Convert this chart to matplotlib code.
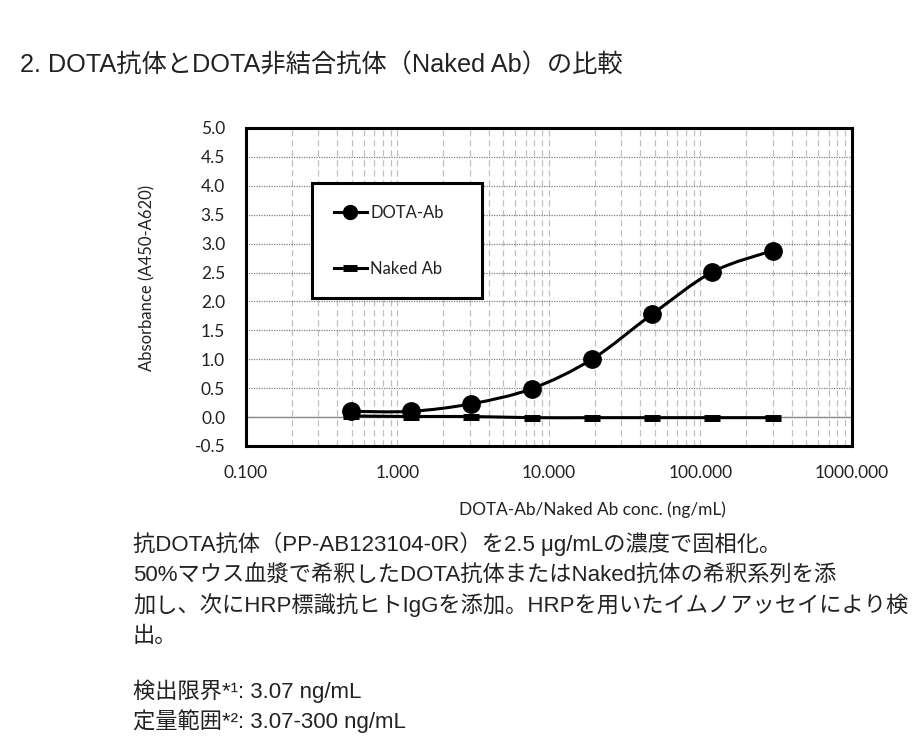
import numpy as np
import matplotlib
matplotlib.use('Agg')
import matplotlib.pyplot as plt
from matplotlib.path import Path
from matplotlib.patches import PathPatch
from matplotlib.lines import Line2D
from matplotlib.ticker import LogLocator, FixedLocator, FuncFormatter, NullFormatter

# data
conc = [0.49, 1.23, 3.07, 7.68, 19.2, 48.0, 120.0, 300.0]
dota_ab = [0.10, 0.10, 0.23, 0.49, 1.00, 1.78, 2.51, 2.88]
naked_ab = [0.02, 0.01, 0.01, -0.01, -0.01, -0.01, -0.01, -0.01]
series_names = ['DOTA-Ab', 'Naked Ab']
y_ticks = [-0.5, 0.0, 0.5, 1.0, 1.5, 2.0, 2.5, 3.0, 3.5, 4.0, 4.5, 5.0]
x_ticks = [0.1, 1, 10, 100, 1000]

title = '2. DOTA抗体とDOTA非結合抗体（Naked Ab）の比較'
body = ['抗DOTA抗体（PP-AB123104-0R）を2.5 μg/mLの濃度で固相化。',
        '50%マウス血漿で希釈したDOTA抗体またはNaked抗体の希釈系列を添',
        '加し、次にHRP標識抗ヒトIgGを添加。HRPを用いたイムノアッセイにより検',
        '出。']
notes = ['検出限界*¹: 3.07 ng/mL',
         '定量範囲*²: 3.07-300 ng/mL']

jp_fam = ['Liberation Sans', 'Noto Sans CJK JP', 'DejaVu Sans']
chart_fam = ['Lato', 'DejaVu Sans']
ink = '#222222'

W, H = 920, 740
fig = plt.figure(figsize=(W / 100, H / 100), dpi=100)
fig.patch.set_facecolor('white')

# axes box in pixels: left 246, right 852, top 128, bottom 446
ax = fig.add_axes([246 / W, 1 - 446 / H, 606 / W, 318 / H])


def smooth_path(xs, ys):
    # Excel-like smoothed line: cubic bezier segments built in log-x space
    pts = np.column_stack([np.log10(xs), ys])
    p = np.vstack([pts[0], pts, pts[-1]])
    verts = [pts[0]]
    codes = [Path.MOVETO]
    for i in range(1, len(pts)):
        p0, p1, p2, p3 = p[i - 1], p[i], p[i + 1], p[i + 2]
        c1 = p1 + (p2 - p0) / 6.0
        c2 = p2 - (p3 - p1) / 6.0
        verts += [c1, c2, p2]
        codes += [Path.CURVE4] * 3
    verts = np.array(verts)
    verts[:, 0] = 10 ** verts[:, 0]
    return Path(verts, codes)


ax.axhline(0, color='#8c8c8c', lw=1.0, zorder=1)

ax.add_patch(PathPatch(smooth_path(conc, naked_ab), fill=False, ec='black', lw=2.2, zorder=3))
ax.add_patch(PathPatch(smooth_path(conc, dota_ab), fill=False, ec='black', lw=2.2, zorder=3))
ax.plot(conc, naked_ab, ls='none', marker='_', ms=12, mew=5, color='black', zorder=4)
ax.plot(conc, dota_ab, ls='none', marker='o', ms=12.5, color='black', zorder=5)

ax.set_xscale('log')
ax.set_xlim(0.1, 1000)
ax.set_ylim(-0.5, 5.0)
ax.xaxis.set_major_locator(FixedLocator(x_ticks))
ax.xaxis.set_minor_locator(LogLocator(base=10, subs=np.arange(2, 10)))
ax.xaxis.set_major_formatter(FuncFormatter(lambda v, pos: '%.3f' % v))
ax.xaxis.set_minor_formatter(NullFormatter())
ax.yaxis.set_major_locator(FixedLocator(y_ticks))
ax.yaxis.set_major_formatter(FuncFormatter(lambda v, pos: '%.1f' % v))

ax.grid(axis='x', which='both', ls=(0, (5, 3)), color='#c0c0c0', lw=0.9, zorder=0)
ax.grid(axis='y', which='major', ls=(0, (1, 1)), color='#808080', lw=0.9, zorder=0)
ax.set_axisbelow(True)

for s in ax.spines.values():
    s.set_linewidth(2.2)
    s.set_color('black')

ax.tick_params(axis='both', which='both', length=0)
ax.tick_params(axis='y', pad=15)
ax.tick_params(axis='x', pad=14)
for lab in ax.get_xticklabels() + ax.get_yticklabels():
    lab.set_family(chart_fam)
    lab.set_fontsize(12.5)
    lab.set_color(ink)

ax.set_ylabel('Absorbance (A450-A620)', family=chart_fam, fontsize=12, color=ink)
ax.yaxis.set_label_coords(-0.15, 0.53)
ax.set_xlabel('DOTA-Ab/Naked Ab conc. (ng/mL)', family=chart_fam, fontsize=12.4, color=ink)
ax.xaxis.set_label_coords(0.572, -0.175)

handles = [Line2D([], [], color='black', lw=2.2, marker='o', ms=10),
           Line2D([], [], color='black', lw=2.2, marker='_', ms=10, mew=5)]
leg = ax.legend(handles, series_names, loc='center',
                bbox_to_anchor=(0.109, 0.462, 0.28, 0.368), mode='expand',
                borderaxespad=0, frameon=True, fancybox=False, framealpha=1,
                edgecolor='black', borderpad=1.3, labelspacing=2.4,
                handlelength=2.0, handletextpad=0.2,
                prop={'family': chart_fam, 'size': 12})
leg.get_frame().set_linewidth(2.2)
for t in leg.get_texts():
    t.set_color(ink)

fig.text(20 / W, 1 - 73 / H, title, family=jp_fam, fontsize=18.2, color=ink, va='baseline')

body_base = [551, 582, 612, 642]
for line, yb in zip(body, body_base):
    fig.text(133 / W, 1 - yb / H, line, family=jp_fam, fontsize=16, color=ink, va='baseline')
for line, yb in zip(notes, [698, 728]):
    fig.text(133 / W, 1 - yb / H, line, family=jp_fam, fontsize=16, color=ink, va='baseline')

fig.savefig('out.png', dpi=100)
